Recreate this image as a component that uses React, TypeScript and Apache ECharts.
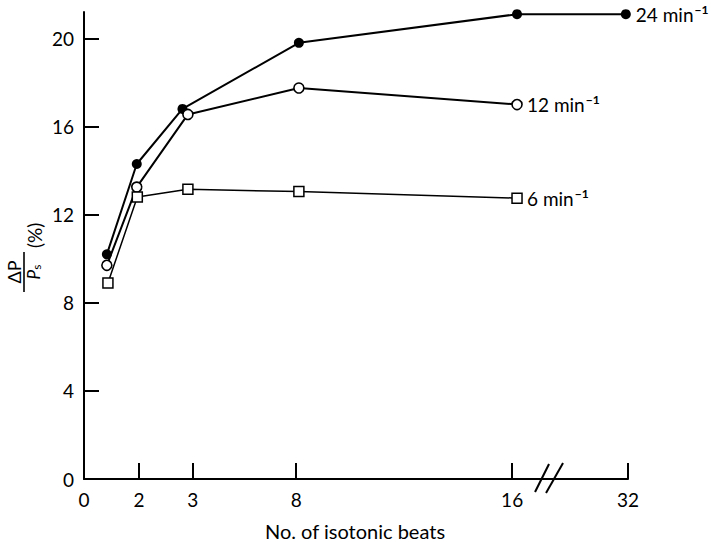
import React, { useEffect, useRef } from "react";
import * as echarts from "echarts";

// x axis: broken scale, tick labels and their positions along the axis (axis units)
const tickLabels = ["0", "2", "3", "8", "16", "32"];
const tickPos = [0, 1.01, 2.0, 3.9, 7.87, 10];
const breakPos = 8.53;

// series: positions along the x axis and ΔP/Ps (%) values
const pos24 = [0.42, 0.97, 1.81, 3.95, 7.96, 9.96];
const val24 = [10.2, 14.3, 16.8, 19.8, 21.1, 21.1];
const pos12 = [0.42, 0.97, 1.91, 3.95, 7.96];
const val12 = [9.7, 13.25, 16.55, 17.75, 17.0];
const pos6 = [0.44, 0.98, 1.91, 3.95, 7.96];
const val6 = [8.9, 12.8, 13.15, 13.05, 12.75];

const yTicks = [0, 4, 8, 12, 16, 20];
const seriesNames = ["24", "12", "6"];

const FONT = "Lato";

const zip = (xs: number[], ys: number[]) => xs.map((x, i) => [x, ys[i]]);

const endLabel = (name: string) => ({
  show: true,
  distance: 10,
  formatter: `{n|${name} min}{s|−1}`,
  rich: {
    n: { fontSize: 19, fontFamily: FONT, color: "#000" },
    s: { fontSize: 12, fontFamily: FONT, color: "#000", fontWeight: "bold", padding: [0, 0, 10, 1] },
  },
});

export default function App() {
  const ref = useRef<HTMLDivElement>(null);
  useEffect(() => {
    if (!ref.current) return;
    const chart = echarts.init(ref.current, null, { renderer: "svg" });
    const axisStyle = { color: "#000", fontSize: 19, fontFamily: FONT };
    chart.setOption({
      animation: false,
      backgroundColor: "#fff",
      grid: { left: 84, right: 91, top: 12, bottom: 63, containLabel: false },
      xAxis: {
        type: "value",
        min: 0,
        max: 10,
        splitLine: { show: false },
        axisLine: { lineStyle: { color: "#000", width: 2 } },
        axisTick: {
          inside: true,
          length: 16,
          lineStyle: { color: "#000", width: 2 },
          customValues: tickPos.slice(1),
        },
        axisLabel: {
          ...axisStyle,
          margin: 11,
          customValues: tickPos,
          formatter: (v: number) => {
            const i = tickPos.findIndex((p) => Math.abs(p - v) < 1e-6);
            return i >= 0 ? tickLabels[i] : "";
          },
        },
      },
      yAxis: {
        type: "value",
        min: 0,
        max: 21.2,
        splitLine: { show: false },
        axisLine: { lineStyle: { color: "#000", width: 2 } },
        axisTick: {
          inside: true,
          length: 15,
          lineStyle: { color: "#000", width: 2 },
          customValues: yTicks.slice(1),
        },
        axisLabel: { ...axisStyle, margin: 10, customValues: yTicks },
      },
      series: [
        {
          name: seriesNames[0],
          type: "line",
          data: zip(pos24, val24),
          symbol: "circle",
          symbolSize: 10,
          color: "#000",
          itemStyle: { color: "#000" },
          lineStyle: { color: "#000", width: 2 },
          endLabel: endLabel(seriesNames[0]),
          z: 3,
        },
        {
          name: seriesNames[1],
          type: "line",
          data: zip(pos12, val12),
          symbol: "circle",
          symbolSize: 10,
          color: "#000",
          itemStyle: { color: "#fff", borderColor: "#000", borderWidth: 1.6 },
          lineStyle: { color: "#000", width: 2 },
          endLabel: endLabel(seriesNames[1]),
          z: 4,
        },
        {
          name: seriesNames[2],
          type: "line",
          data: zip(pos6, val6),
          symbol: "rect",
          symbolSize: 10,
          color: "#000",
          itemStyle: { color: "#fff", borderColor: "#000", borderWidth: 1.5 },
          lineStyle: { color: "#000", width: 1.5 },
          endLabel: endLabel(seriesNames[2]),
          z: 5,
        },
      ],
    });

    const [bx, by] = chart.convertToPixel({ gridIndex: 0 }, [breakPos, 0]) as number[];
    chart.setOption({
      graphic: [
        {
          type: "line",
          shape: { x1: bx - 13, y1: by + 13, x2: bx + 1, y2: by - 15 },
          style: { stroke: "#000", lineWidth: 2 },
          z: 10,
        },
        {
          type: "line",
          shape: { x1: bx - 2, y1: by + 14, x2: bx + 15, y2: by - 16 },
          style: { stroke: "#000", lineWidth: 2 },
          z: 10,
        },
        {
          type: "text",
          x: 355,
          y: 531,
          style: {
            text: "No. of isotonic beats",
            fill: "#000",
            font: `20px ${FONT}`,
            textAlign: "center",
            textVerticalAlign: "middle",
          },
        },
        {
          type: "group",
          x: 24,
          y: 272,
          rotation: Math.PI / 2,
          children: [
            {
              type: "line",
              shape: { x1: -20, y1: 0, x2: 20, y2: 0 },
              style: { stroke: "#000", lineWidth: 1.6 },
            },
            {
              type: "text",
              x: 0,
              y: -1,
              style: {
                text: "ΔP",
                fill: "#000",
                font: `18px ${FONT}`,
                textAlign: "center",
                textVerticalAlign: "bottom",
              },
            },
            {
              type: "text",
              x: 0,
              y: 1,
              style: {
                text: "{p|P}{s|s}",
                rich: {
                  p: { fontSize: 17, fontFamily: FONT, fontStyle: "italic", color: "#000" },
                  s: { fontSize: 12, fontFamily: FONT, color: "#000", padding: [5, 0, 0, 0] },
                },
                textAlign: "center",
                textVerticalAlign: "top",
              },
            },
            {
              type: "text",
              x: 24,
              y: 10,
              style: {
                text: "(%)",
                fill: "#000",
                font: `19px ${FONT}`,
                textAlign: "left",
                textVerticalAlign: "middle",
              },
            },
          ],
        },
      ],
    });
    return () => chart.dispose();
  }, []);
  return (
    <div
      ref={ref}
      style={{ position: "fixed", left: 0, top: 0, width: 719, height: 542 }}
    />
  );
}
